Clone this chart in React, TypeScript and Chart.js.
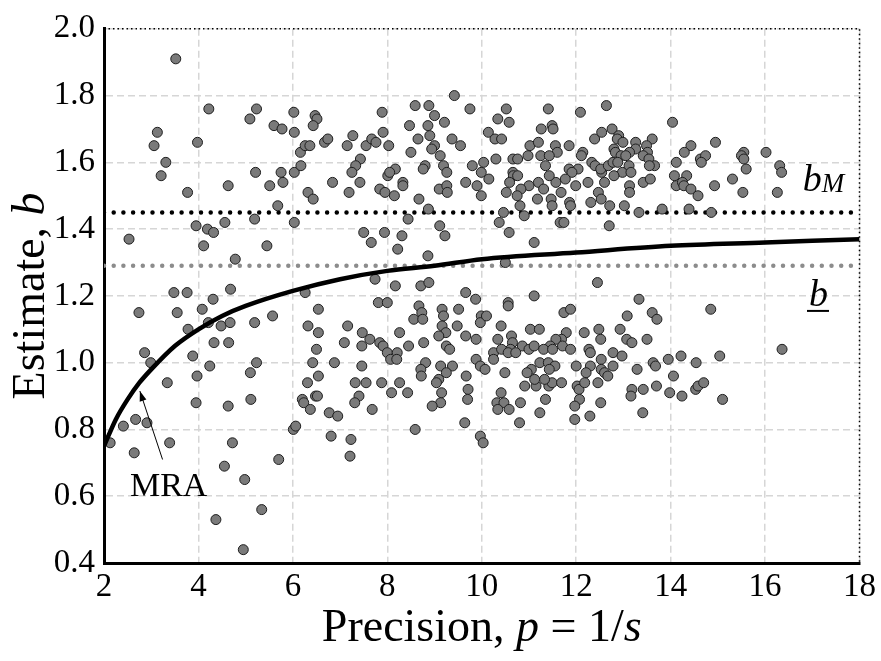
import React, { useEffect, useRef } from "react";
import { Chart, registerables } from "chart.js";

Chart.register(...registerables);

// ---- data ----
const precision = [
  3.52, 4.22, 5.23, 5.09, 3.13, 3.06, 3.98, 5.6, 5.77, 6.02, 6.03, 3.31, 3.21, 3.77, 4.63, 5.21, 5.51, 5.75, 5.79, 6.03,
  6.47, 6.51, 6.43, 6.16, 6.26, 6.36, 6.67, 6.74, 7.27, 7.15, 7.55, 7.67, 7.76, 7.89, 7.91, 8.03, 8.59, 8.88, 9.42, 9.75,
  9.0, 9.21, 8.47, 8.86, 8.9, 8.65, 9.37, 9.55, 9.0, 8.94, 9.12, 8.5, 6.17, 7.43, 7.33, 7.25, 6.84, 7.42, 7.19, 6.32,
  6.43, 8.01, 8.17, 8.05, 7.84, 7.95, 8.15, 8.33, 8.33, 8.8, 8.76, 9.19, 9.26, 8.67, 9.1, 9.26, 9.27, 9.66, 9.8, 9.9,
  9.99, 10.04, 9.99, 10.52, 11.41, 12.09, 12.64, 10.34, 10.58, 10.14, 10.28, 10.42, 11.26, 11.49, 11.51, 11.85, 11.02, 11.2, 10.98, 11.56,
  11.6, 11.25, 11.43, 10.66, 10.76, 10.3, 12.14, 12.11, 12.39, 12.54, 12.76, 12.9, 12.87, 12.99, 12.8, 12.83, 12.95, 13.26, 13.26, 13.13,
  13.05, 13.61, 13.49, 13.51, 13.42, 13.54, 13.66, 13.55, 14.04, 12.33, 12.4, 12.54, 12.52, 12.68, 12.78, 12.88, 12.98, 13.12, 13.16, 12.8,
  12.6, 12.25, 11.99, 12.04, 11.85, 11.91, 11.77, 11.57, 11.43, 11.68, 11.35, 11.2, 11.0, 10.83, 10.66, 10.67, 10.76, 10.59, 10.15, 10.52,
  10.75, 11.31, 11.18, 11.47, 12.47, 12.53, 13.13, 13.13, 13.42, 13.57, 14.43, 14.29, 14.95, 14.63, 14.74, 14.65, 14.12, 15.55, 15.5, 15.55,
  15.6, 16.02, 16.31, 16.35, 14.08, 14.34, 14.12, 14.25, 14.28, 14.43, 14.58, 14.93, 15.31, 15.53, 16.26, 5.68, 2.53, 3.95, 4.19, 4.32,
  4.56, 5.19, 6.03, 4.11, 5.45, 4.78, 3.48, 3.76, 4.68, 4.31, 2.74, 3.55, 4.08, 4.21, 4.48, 4.67, 5.19, 5.57, 3.78, 4.33,
  4.64, 2.86, 2.99, 3.88, 4.24, 5.23, 5.1, 3.97, 3.34, 3.95, 4.63, 5.11, 2.67, 2.41, 2.91, 2.13, 3.39, 4.72, 2.64, 5.7,
  4.55, 4.98, 5.34, 4.37, 4.95, 8.87, 8.44, 9.11, 9.22, 7.5, 7.94, 8.31, 7.66, 8.22, 8.86, 7.74, 8.17, 8.71, 8.88, 6.26,
  9.66, 9.87, 7.81, 8.0, 6.54, 8.67, 8.73, 8.56, 8.75, 9.16, 9.19, 9.51, 9.99, 9.97, 6.32, 7.16, 6.54, 7.47, 7.63, 7.09,
  7.46, 7.84, 7.91, 8.26, 8.77, 9.16, 9.24, 9.09, 9.48, 9.66, 9.88, 9.25, 9.32, 6.5, 8.0, 8.21, 8.07, 8.2, 8.45, 6.42,
  6.88, 7.46, 8.81, 8.71, 8.72, 9.13, 9.38, 9.25, 9.09, 9.04, 9.67, 9.88, 9.97, 6.31, 6.54, 7.32, 7.55, 7.88, 8.26, 6.2,
  6.23, 6.48, 6.52, 6.37, 6.01, 6.06, 6.77, 6.95, 6.81, 7.23, 7.21, 7.4, 7.31, 7.68, 8.09, 8.43, 8.59, 9.15, 9.13, 8.95,
  9.71, 9.7, 9.64, 9.97, 10.03, 10.41, 10.32, 10.47, 10.34, 10.58, 10.82, 10.8, 10.91, 11.15, 11.35, 11.23, 11.42, 11.49, 11.69, 12.02,
  12.06, 12.07, 11.97, 11.97, 12.29, 12.52, 12.18, 12.46, 13.18, 13.16, 13.42, 13.41, 13.7, 13.98, 14.24, 14.53, 14.58, 14.7, 15.1, 10.46,
  10.81, 10.9, 11.49, 11.86, 11.88, 12.31, 12.71, 13.02, 13.33, 13.82, 10.37, 10.58, 11.66, 11.74, 12.7, 11.11, 10.5, 12.45, 11.11, 13.33,
  10.56, 10.56, 11.74, 11.88, 13.08, 13.61, 13.71, 10.1, 10.41, 10.63, 10.34, 11.03, 11.22, 12.17, 12.48, 12.52, 12.93, 13.07, 13.18, 13.5,
  11.79, 11.69, 11.57, 11.45, 11.71, 10.65, 10.61, 10.86, 11.0, 11.11, 10.25, 10.42, 10.56, 10.72, 11.31, 11.5, 11.88, 12.27, 12.3, 12.78,
  12.97, 12.53, 12.53, 10.25, 10.07, 10.49, 11.23, 11.41, 11.55, 11.43, 11.05, 10.96, 12.0, 12.3, 12.78, 12.6, 12.67, 12.21, 13.29, 13.63,
  13.68, 13.95, 11.33, 11.12, 14.39, 14.86, 14.85, 16.36, 15.04, 14.22, 14.54, 14.06,
];

const estimate = [
  1.91, 1.76, 1.76, 1.73, 1.69, 1.65, 1.66, 1.71, 1.7, 1.75, 1.69, 1.6, 1.56, 1.51, 1.53, 1.57, 1.53, 1.57, 1.54, 1.57,
  1.74, 1.73, 1.71, 1.63, 1.65, 1.65, 1.66, 1.67, 1.68, 1.65, 1.65, 1.67, 1.66, 1.75, 1.69, 1.65, 1.77, 1.77, 1.8, 1.76,
  1.74, 1.72, 1.71, 1.71, 1.68, 1.67, 1.67, 1.65, 1.65, 1.64, 1.62, 1.63, 1.59, 1.61, 1.59, 1.57, 1.54, 1.54, 1.51, 1.51,
  1.49, 1.56, 1.58, 1.57, 1.52, 1.51, 1.5, 1.54, 1.53, 1.59, 1.58, 1.59, 1.57, 1.49, 1.52, 1.53, 1.51, 1.54, 1.59, 1.53,
  1.57, 1.6, 1.5, 1.76, 1.76, 1.75, 1.77, 1.73, 1.72, 1.69, 1.67, 1.67, 1.7, 1.71, 1.7, 1.65, 1.65, 1.66, 1.62, 1.65,
  1.63, 1.62, 1.62, 1.61, 1.61, 1.61, 1.63, 1.62, 1.67, 1.69, 1.7, 1.68, 1.67, 1.66, 1.64, 1.63, 1.62, 1.66, 1.64, 1.63,
  1.62, 1.67, 1.65, 1.63, 1.62, 1.61, 1.59, 1.59, 1.72, 1.6, 1.59, 1.57, 1.58, 1.59, 1.6, 1.6, 1.57, 1.59, 1.57, 1.56,
  1.54, 1.54, 1.53, 1.58, 1.58, 1.57, 1.55, 1.54, 1.56, 1.51, 1.59, 1.54, 1.53, 1.52, 1.57, 1.56, 1.56, 1.54, 1.55, 1.51,
  1.5, 1.52, 1.49, 1.49, 1.51, 1.49, 1.53, 1.51, 1.54, 1.55, 1.65, 1.63, 1.66, 1.61, 1.62, 1.6, 1.6, 1.63, 1.62, 1.61,
  1.58, 1.63, 1.59, 1.57, 1.56, 1.56, 1.53, 1.54, 1.53, 1.52, 1.5, 1.53, 1.55, 1.51, 1.51, 1.47, 1.37, 1.41, 1.4, 1.39,
  1.42, 1.43, 1.42, 1.35, 1.35, 1.31, 1.21, 1.21, 1.22, 1.19, 1.15, 1.15, 1.16, 1.12, 1.11, 1.12, 1.12, 1.14, 1.1, 1.06,
  1.06, 1.03, 1.0, 1.02, 0.99, 1.0, 0.97, 0.96, 0.94, 0.88, 0.87, 0.89, 0.83, 0.81, 0.82, 0.76, 0.76, 0.76, 0.73, 0.71,
  0.69, 0.65, 0.56, 0.53, 0.44, 1.46, 1.43, 1.41, 1.38, 1.39, 1.39, 1.38, 1.36, 1.34, 1.32, 1.25, 1.23, 1.23, 1.24, 1.21,
  1.21, 1.19, 1.18, 1.18, 1.16, 1.17, 1.15, 1.13, 1.13, 1.16, 1.14, 1.16, 1.14, 1.12, 1.11, 1.11, 1.09, 1.09, 1.07, 1.06,
  1.05, 1.06, 1.05, 1.09, 1.06, 1.11, 1.09, 1.08, 1.11, 1.08, 1.07, 1.05, 1.04, 1.04, 1.03, 1.03, 1.01, 1.01, 1.05, 1.0,
  1.0, 0.99, 1.0, 0.98, 0.96, 0.99, 0.99, 0.97, 0.95, 0.94, 0.96, 1.01, 0.99, 0.94, 0.96, 0.94, 0.94, 0.94, 0.94, 0.89,
  0.88, 0.9, 0.9, 0.86, 0.8, 0.81, 0.85, 0.84, 0.78, 0.77, 0.72, 0.9, 0.88, 0.86, 0.91, 0.91, 0.8, 0.91, 0.88, 0.87,
  0.92, 0.89, 0.82, 0.78, 0.76, 0.91, 0.88, 0.88, 0.86, 0.86, 0.88, 0.82, 0.93, 0.93, 0.89, 0.85, 0.93, 0.94, 0.94, 0.93,
  0.92, 0.89, 0.87, 0.83, 0.84, 0.88, 0.94, 0.94, 0.92, 0.9, 0.92, 0.85, 0.93, 0.91, 0.9, 0.92, 0.93, 0.94, 0.89, 1.45,
  1.47, 1.44, 1.47, 1.48, 1.47, 1.48, 1.47, 1.47, 1.45, 1.46, 1.42, 1.39, 1.42, 1.42, 1.41, 1.36, 1.3, 1.24, 1.2, 1.19,
  1.18, 1.17, 1.15, 1.16, 1.14, 1.15, 1.13, 1.14, 1.11, 1.08, 1.07, 1.1, 1.1, 1.09, 1.1, 1.07, 1.1, 1.07, 1.06, 1.07,
  1.09, 1.07, 1.07, 1.05, 1.05, 1.06, 1.04, 1.05, 1.04, 1.05, 1.03, 1.04, 1.03, 1.03, 1.04, 1.04, 1.04, 1.04, 1.03, 1.03,
  1.02, 1.01, 0.98, 1.01, 0.98, 0.97, 1.0, 1.0, 0.99, 0.98, 0.98, 0.97, 0.99, 0.99, 0.99, 0.97, 0.96, 0.97, 0.98, 1.0,
  0.99, 1.01, 0.95, 0.95, 1.46, 1.45, 1.16, 1.04, 1.02, 1.02, 1.0, 0.96,
];

// MRA curve read at these precisions
const mraPrecision = [2, 2.25, 2.5, 2.75, 3, 3.5, 4, 4.5, 5, 6, 7, 8, 9, 10, 12, 14, 16, 18];
const mraEstimate = [0.75, 0.83, 0.89, 0.94, 0.98, 1.05, 1.1, 1.14, 1.17, 1.215, 1.25, 1.275, 1.29, 1.31, 1.33, 1.35, 1.36, 1.37];

const bMeanWeighted = 1.45; // b_M
const bMean = 1.29; // b underlined
const xRange = [2, 18];
const yRange = [0.4, 2.0];
const xTicks = [2, 4, 6, 8, 10, 12, 14, 16, 18];
const yTicks = [0.4, 0.6, 0.8, 1.0, 1.2, 1.4, 1.6, 1.8, 2.0];

// annotation anchors (data units)
const bMLabelAt = { p: 16.8, b: 1.514 };
const bLabelAt = { p: 16.93, b: 1.17 };
const mraLabelAt = { p: 3.37, b: 0.6 };
const mraArrowFrom = { p: 3.24, b: 0.71 };
const mraArrowTo = { p: 2.76, b: 0.915 };

const SERIF = '"Liberation Serif", "Times New Roman", serif';
const TICK_SIZE = 33;
const TITLE_SIZE = 46;

type Run = { t: string; italic?: boolean; size?: number; dy?: number };

function drawRuns(ctx: CanvasRenderingContext2D, runs: Run[], x: number, y: number, base: number, align: "left" | "center") {
  const fontFor = (r: Run) => `${r.italic ? "italic " : ""}${r.size ?? base}px ${SERIF}`;
  let total = 0;
  for (const r of runs) {
    ctx.font = fontFor(r);
    total += ctx.measureText(r.t).width;
  }
  let cx = align === "center" ? x - total / 2 : x;
  const start = cx;
  for (const r of runs) {
    ctx.font = fontFor(r);
    ctx.fillText(r.t, cx, y + (r.dy ?? 0));
    cx += ctx.measureText(r.t).width;
  }
  return { start, end: cx };
}

const overlay = {
  id: "overlay",
  afterDraw(chart: any) {
    const { ctx, chartArea: a, scales } = chart;
    const xs = scales.x;
    const ys = scales.y;
    ctx.save();
    // dotted top & right frame
    ctx.strokeStyle = "#000";
    ctx.lineWidth = 1.5;
    ctx.setLineDash([1.5, 3]);
    ctx.beginPath();
    ctx.moveTo(a.left, a.top);
    ctx.lineTo(a.right, a.top);
    ctx.lineTo(a.right, a.bottom);
    ctx.stroke();
    ctx.setLineDash([]);

    ctx.fillStyle = "#000";
    ctx.textBaseline = "alphabetic";
    // x title
    drawRuns(
      ctx,
      [{ t: "Precision, " }, { t: "p", italic: true }, { t: " = 1/" }, { t: "s", italic: true }],
      (a.left + a.right) / 2,
      641,
      TITLE_SIZE,
      "center"
    );
    // y title
    ctx.save();
    ctx.translate(44, (a.top + a.bottom) / 2);
    ctx.rotate(-Math.PI / 2);
    drawRuns(ctx, [{ t: "Estimate, " }, { t: "b", italic: true }], 0, 0, TITLE_SIZE, "center");
    ctx.restore();

    // b_M label
    drawRuns(
      ctx,
      [{ t: "b", italic: true }, { t: "M", italic: true, size: 27, dy: 1 }],
      xs.getPixelForValue(bMLabelAt.p),
      ys.getPixelForValue(bMLabelAt.b),
      38,
      "left"
    );
    // underlined b label
    const bl = drawRuns(
      ctx,
      [{ t: "b", italic: true }],
      xs.getPixelForValue(bLabelAt.p),
      ys.getPixelForValue(bLabelAt.b),
      38,
      "left"
    );
    ctx.strokeStyle = "#000";
    ctx.lineWidth = 2;
    ctx.beginPath();
    const uy = ys.getPixelForValue(bLabelAt.b) + 5;
    ctx.moveTo(bl.start - 2, uy);
    ctx.lineTo(bl.end + 1, uy);
    ctx.stroke();

    // MRA label + arrow
    drawRuns(ctx, [{ t: "MRA" }], xs.getPixelForValue(mraLabelAt.p), ys.getPixelForValue(mraLabelAt.b), 34, "center");
    const x1 = xs.getPixelForValue(mraArrowFrom.p);
    const y1 = ys.getPixelForValue(mraArrowFrom.b);
    const x2 = xs.getPixelForValue(mraArrowTo.p);
    const y2 = ys.getPixelForValue(mraArrowTo.b);
    ctx.lineWidth = 1;
    ctx.beginPath();
    ctx.moveTo(x1, y1);
    ctx.lineTo(x2, y2);
    ctx.stroke();
    const ang = Math.atan2(y2 - y1, x2 - x1);
    const L = 10;
    const W = 3.5;
    ctx.beginPath();
    ctx.moveTo(x2, y2);
    ctx.lineTo(x2 - L * Math.cos(ang) + W * Math.sin(ang), y2 - L * Math.sin(ang) - W * Math.cos(ang));
    ctx.lineTo(x2 - L * Math.cos(ang) - W * Math.sin(ang), y2 - L * Math.sin(ang) + W * Math.cos(ang));
    ctx.closePath();
    ctx.fill();
    ctx.restore();
  },
};

export default function App() {
  const ref = useRef<HTMLCanvasElement | null>(null);
  useEffect(() => {
    if (!ref.current) return;
    const points = precision.map((p, i) => ({ x: p, y: estimate[i] }));
    const mra = mraPrecision.map((p, i) => ({ x: p, y: mraEstimate[i] }));
    const chart = new Chart(ref.current, {
      type: "scatter",
      data: {
        datasets: [
          {
            label: "MRA",
            data: mra,
            showLine: true,
            borderColor: "#000",
            borderWidth: 4.5,
            pointRadius: 0,
            cubicInterpolationMode: "monotone",
            order: 0,
          } as any,
          {
            label: "estimates",
            data: points,
            pointRadius: 5,
            pointBackgroundColor: "#7a7a7a",
            pointBorderColor: "#1e1e1e",
            pointBorderWidth: 1,
            order: 1,
          },
          {
            label: "bM",
            data: [
              { x: xRange[0], y: bMeanWeighted },
              { x: xRange[1], y: bMeanWeighted },
            ],
            showLine: true,
            borderColor: "#000",
            borderWidth: 4.5,
            borderDash: [0, 9.7],
            borderCapStyle: "round",
            pointRadius: 0,
            order: 2,
          } as any,
          {
            label: "b",
            data: [
              { x: xRange[0], y: bMean },
              { x: xRange[1], y: bMean },
            ],
            showLine: true,
            borderColor: "#8c8c8c",
            borderWidth: 4.5,
            borderDash: [0, 9.7],
            borderCapStyle: "round",
            pointRadius: 0,
            order: 3,
          } as any,
        ],
      },
      options: {
        animation: false,
        responsive: false,
        maintainAspectRatio: false,
        layout: { padding: { top: 23, right: 18, left: 0, bottom: 0 } },
        plugins: { legend: { display: false }, tooltip: { enabled: false } },
        scales: {
          x: {
            type: "linear",
            min: xRange[0],
            max: xRange[1],
            afterBuildTicks: (s: any) => {
              s.ticks = xTicks.map((v) => ({ value: v }));
            },
            afterFit: (s: any) => {
              s.height = 98;
            },
            grid: { color: "#d6d6d6", lineWidth: 1.5, drawTicks: false },
            border: { display: true, color: "#000", width: 3, dash: [7, 4] },
            ticks: {
              color: "#000",
              font: { family: SERIF, size: TICK_SIZE },
              padding: 5,
              maxRotation: 0,
              callback: (v: any) => String(v),
            },
          },
          y: {
            type: "linear",
            min: yRange[0],
            max: yRange[1],
            afterBuildTicks: (s: any) => {
              s.ticks = yTicks.map((v) => ({ value: v }));
            },
            afterFit: (s: any) => {
              s.width = 104;
            },
            grid: { color: "#d6d6d6", lineWidth: 1.5, drawTicks: false },
            border: { display: true, color: "#000", width: 3, dash: [7, 4] },
            ticks: {
              color: "#000",
              font: { family: SERIF, size: TICK_SIZE },
              padding: 9,
              callback: (v: any) => Number(v).toFixed(1),
            },
          },
        },
      },
      plugins: [overlay],
    } as any);
    return () => chart.destroy();
  }, []);

  return (
    <div style={{ position: "fixed", left: 0, top: 0, width: 881, height: 661, background: "#fff" }}>
      <canvas ref={ref} width={881} height={661} style={{ width: 881, height: 661, display: "block" }} />
    </div>
  );
}
